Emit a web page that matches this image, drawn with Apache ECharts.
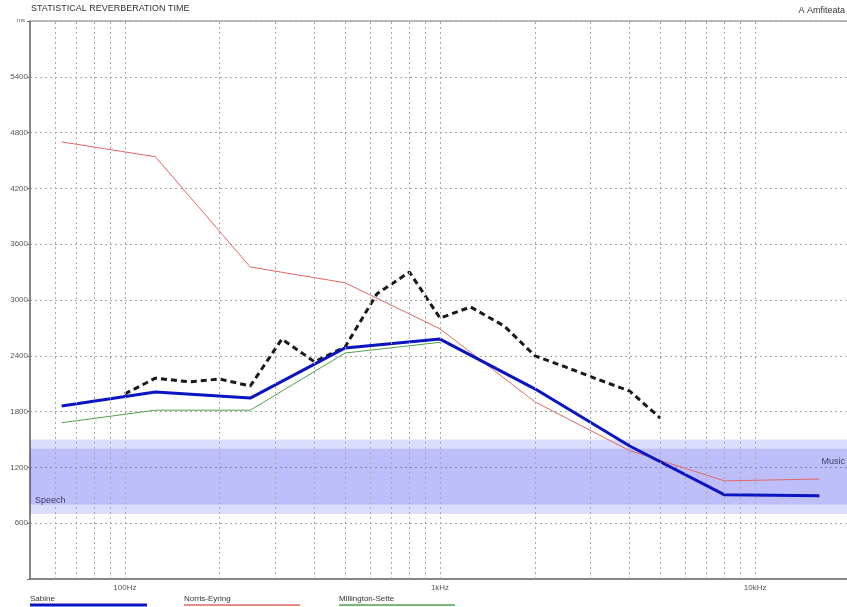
<!DOCTYPE html>
<html>
<head>
<meta charset="utf-8">
<title>Statistical Reverberation Time</title>
<script src="https://cdn.jsdelivr.net/npm/echarts@6/dist/echarts.min.js"></script>
<style>
  html, body { margin: 0; padding: 0; background: #fff; overflow: hidden; }
  /* plot runs a few pixels past the window edge, as in the original */
  #reverb_chart { width: 850px; height: 607px; }
</style>
</head>
<body>
<div id="reverb_chart"></div>
<script>
// octave bands (Hz)
const octaveFreqs = [63, 125, 250, 500, 1000, 2000, 4000, 8000, 16000];
const sabine = [1860, 2010, 1945, 2485, 2580, 2045, 1430, 905, 895];
const norrisEyring = [4700, 4540, 3355, 3185, 2690, 1905, 1380, 1055, 1075];
const millingtonFreqs = [63, 125, 250, 500, 1000];
const millingtonSette = [1680, 1815, 1815, 2430, 2545];

// third-octave measured curve (dashed)
const measuredFreqs = [100, 125, 160, 200, 250, 315, 400, 500, 630, 800, 1000, 1250, 1600, 2000, 2500, 3150, 4000, 5000];
const measured = [1990, 2160, 2120, 2150, 2075, 2580, 2335, 2495, 3065, 3300, 2805, 2925, 2720, 2400, 2280, 2150, 2020, 1730];

// vertical grid lines
const gridFreqs = [60, 70, 80, 90, 100, 200, 300, 400, 500, 600, 700, 800, 900,
  1000, 2000, 3000, 4000, 5000, 6000, 7000, 8000, 9000, 10000];

// recommended ranges (ms)
const musicRange = [800, 1500];
const speechRange = [700, 1400];

const xLabels = { 100: "100Hz", 1000: "1kHz", 10000: "10kHz" };

function pairs(xs, ys) {
  return xs.map(function (x, i) { return [x, ys[i]]; });
}

const chartDom = document.getElementById("reverb_chart");
const reverbChart = echarts.init(chartDom);

const textFont = "Liberation Sans, Arial, sans-serif";
const dotLine = { color: "#a8a8a8", width: 1, type: [2, 3] };

const option = {
  animation: false,
  textStyle: { fontFamily: textFont },
  grid: {
    left: 30,
    right: 0,
    top: 21,
    bottom: 28,
    show: true,
    borderColor: "#777",
    borderWidth: 1,
  },
  xAxis: {
    type: "log",
    logBase: 10,
    min: 50,
    max: 20000,
    axisLine: { lineStyle: { color: "#777", width: 1.5 } },
    axisTick: { show: false },
    splitLine: { show: false },
    axisLabel: {
      fontSize: 8,
      color: "#555",
      margin: 5,
      showMinLabel: false,
      showMaxLabel: false,
      formatter: function (v) {
        return xLabels[Math.round(v)] || "";
      },
    },
  },
  yAxis: {
    type: "value",
    min: 0,
    max: 6000,
    interval: 600,
    axisLine: { show: true, lineStyle: { color: "#777", width: 1.5 } },
    axisTick: { show: true, length: 3, lineStyle: { color: "#777" } },
    splitLine: { lineStyle: dotLine },
    axisLabel: {
      fontSize: 8,
      color: "#555",
      margin: 2,
      formatter: function (v) {
        return v === 0 || v === 6000 ? "" : String(v);
      },
    },
  },
  series: [
    {
      type: "line",
      data: [],
      silent: true,
      markLine: {
        silent: true,
        symbol: "none",
        label: { show: false },
        lineStyle: dotLine,
        data: gridFreqs.map(function (f) { return { xAxis: f }; }),
      },
      markArea: {
        silent: true,
        itemStyle: { color: "rgba(5, 5, 233, 0.14)" },
        data: [
          [
            {
              yAxis: musicRange[0],
              label: {
                show: true,
                position: "insideTopRight",
                offset: [0, 13],
                fontSize: 9,
                color: "#3a3a66",
                fontFamily: textFont,
              },
              name: "Music",
            },
            { yAxis: musicRange[1] },
          ],
          [
            {
              yAxis: speechRange[0],
              label: {
                show: true,
                position: "insideBottomLeft",
                offset: [0, -4],
                fontSize: 9,
                color: "#3a3a66",
                fontFamily: textFont,
              },
              name: "Speech",
            },
            { yAxis: speechRange[1] },
          ],
        ],
      },
    },
    {
      name: "Millington-Sette",
      type: "line",
      data: pairs(millingtonFreqs, millingtonSette),
      symbol: "none",
      lineStyle: { color: "#4fa04f", width: 1 },
    },
    {
      name: "Norris-Eyring",
      type: "line",
      data: pairs(octaveFreqs, norrisEyring),
      symbol: "none",
      lineStyle: { color: "#e06666", width: 1 },
    },
    {
      name: "Measured",
      type: "line",
      data: pairs(measuredFreqs, measured),
      symbol: "none",
      lineStyle: { color: "#1a1a1a", width: 3, type: [6, 4] },
    },
    {
      name: "Sabine",
      type: "line",
      data: pairs(octaveFreqs, sabine),
      symbol: "none",
      lineStyle: { color: "#0a14c0", width: 3 },
    },
  ],
  graphic: [
    {
      type: "text",
      left: 31,
      top: 4,
      style: { text: "STATISTICAL REVERBERATION TIME", fill: "#333", font: "9px " + textFont },
    },
    {
      type: "text",
      right: 5,
      top: 6,
      style: { text: "A Amfiteata", fill: "#333", font: "9px " + textFont },
    },
    {
      type: "text",
      left: 17,
      top: 17,
      style: { text: "ms", fill: "#555", font: "6px " + textFont },
    },
    { type: "text", left: 30, top: 595, style: { text: "Sabine", fill: "#333", font: "8px " + textFont } },
    { type: "line", shape: { x1: 30, y1: 605, x2: 147, y2: 605 }, style: { stroke: "#0a14c0", lineWidth: 3 } },
    { type: "text", left: 184, top: 595, style: { text: "Norris-Eyring", fill: "#333", font: "8px " + textFont } },
    { type: "line", shape: { x1: 184, y1: 605, x2: 300, y2: 605 }, style: { stroke: "#e06666", lineWidth: 1.5 } },
    { type: "text", left: 339, top: 595, style: { text: "Millington-Sette", fill: "#333", font: "8px " + textFont } },
    { type: "line", shape: { x1: 339, y1: 605, x2: 455, y2: 605 }, style: { stroke: "#4fa04f", lineWidth: 1.5 } },
  ],
};

option && reverbChart.setOption(option);
</script>
</body>
</html>
